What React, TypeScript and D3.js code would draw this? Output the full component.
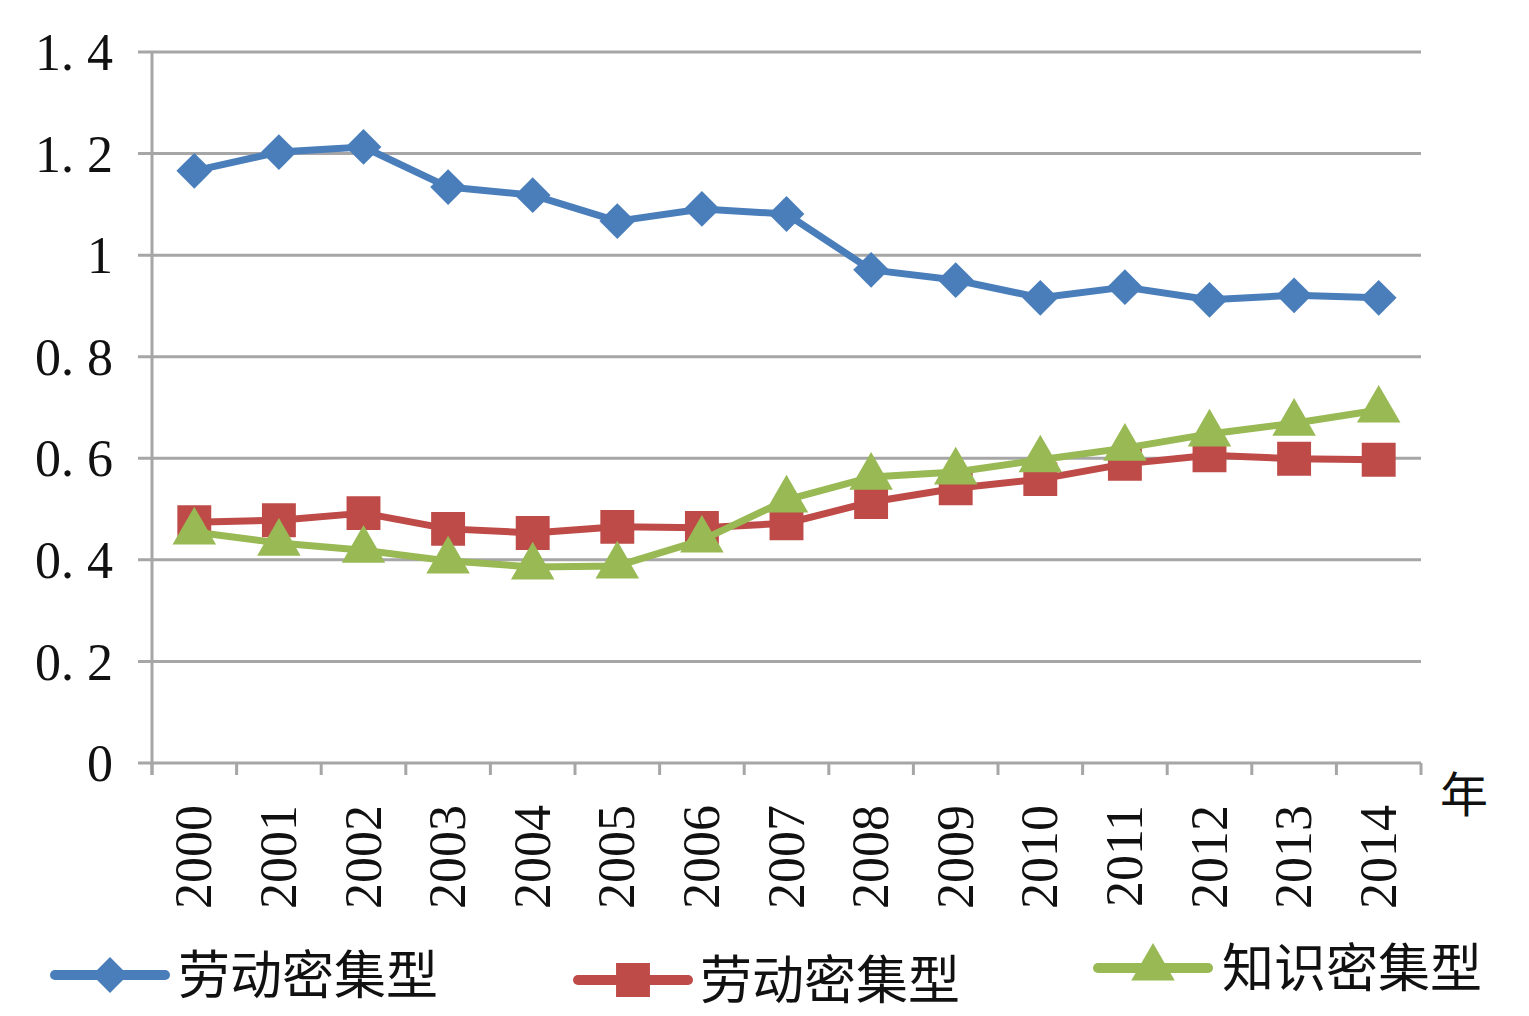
import * as d3 from 'd3';
import React from 'react';

// data
const years = ['2000', '2001', '2002', '2003', '2004', '2005', '2006', '2007', '2008', '2009', '2010', '2011', '2012', '2013', '2014'];
const laborA = [1.166, 1.203, 1.213, 1.134, 1.118, 1.067, 1.091, 1.081, 0.971, 0.951, 0.916, 0.937, 0.912, 0.921, 0.916];
const laborB = [0.474, 0.478, 0.492, 0.461, 0.453, 0.465, 0.463, 0.472, 0.514, 0.541, 0.559, 0.589, 0.606, 0.599, 0.597];
const knowledge = [0.455, 0.433, 0.419, 0.398, 0.386, 0.388, 0.439, 0.518, 0.563, 0.573, 0.597, 0.620, 0.648, 0.669, 0.695];
const yTicks = [0, 0.2, 0.4, 0.6, 0.8, 1, 1.2, 1.4];
const seriesNames = ['劳动密集型', '劳动密集型', '知识密集型'];

const W = 1529, H = 1016;
const margin = { top: 52, right: 108, bottom: 253, left: 152 };
const serif = '"Times New Roman", "Liberation Serif", "DejaVu Serif", serif';
const cjk = '"Noto Sans CJK SC", "Noto Sans CJK JP", sans-serif';

const series = [
	{ name: seriesNames[0], values: laborA, color: '#4a7ebb', symbol: d3.symbolSquare, size: 640, rot: 45 },
	{ name: seriesNames[1], values: laborB, color: '#be4b48', symbol: d3.symbolSquare, size: 1150, rot: 0 },
	{ name: seriesNames[2], values: knowledge, color: '#98b954', symbol: d3.symbolTriangle, size: 820, rot: 0 },
];

const fmt = (v: number) => (v === 0 || v === 1 ? String(v) : v.toFixed(1).replace('.', '. '));

export default function App() {
	const x = d3.scaleBand().domain(years).range([margin.left, W - margin.right]);
	const y = d3.scaleLinear().domain([0, 1.4]).range([H - margin.bottom, margin.top]);
	const cx = (yr: string) => (x(yr) as number) + x.bandwidth() / 2;

	const line = d3.line<number>()
		.x((_, i) => cx(years[i]))
		.y(d => y(d));

	const boundaries = years.map(yr => x(yr) as number).concat([W - margin.right]);
	const legendPos = [
		{ x0: 55, y: 975, tx: 178 },
		{ x0: 578, y: 980, tx: 700 },
		{ x0: 1098, y: 968, tx: 1222 },
	];

	return (
		<svg width={W} height={H} style={{ position: 'absolute', left: 0, top: 0, background: '#fff' }}>
			{/* grid */}
			{yTicks.map(t => (
				<g key={t}>
					<line x1={margin.left - 14} x2={W - margin.right} y1={y(t)} y2={y(t)} stroke="#a6a6a6" strokeWidth={3} />
					<text x={113} y={y(t)} dy="0.35em" textAnchor="end" fontFamily={serif} fontSize={52} fill="#111">{fmt(t)}</text>
				</g>
			))}
			<line x1={margin.left} x2={margin.left} y1={margin.top} y2={y(0) + 12} stroke="#a6a6a6" strokeWidth={3} />
			{boundaries.map((b, i) => (
				<line key={i} x1={b} x2={b} y1={y(0)} y2={y(0) + 12} stroke="#a6a6a6" strokeWidth={3} />
			))}
			{years.map(yr => (
				<text key={yr} transform={`translate(${cx(yr) + 17},${y(0) + 42}) rotate(-90)`} textAnchor="end"
					fontFamily={serif} fontSize={52} fill="#111">{yr}</text>
			))}
			<text x={1440} y={812} fontFamily={cjk} fontSize={48} fill="#111">年</text>

			{series.map((s, si) => (
				<g key={si}>
					<path d={line(s.values) || ''} fill="none" stroke={s.color} strokeWidth={7} strokeLinejoin="round" />
					{s.values.map((v, i) => (
						<path key={i} d={d3.symbol().type(s.symbol).size(s.size)() || ''}
							transform={`translate(${cx(years[i])},${y(v)}) rotate(${s.rot})`} fill={s.color} />
					))}
				</g>
			))}

			{/* legend */}
			{series.map((s, si) => {
				const p = legendPos[si];
				return (
					<g key={si}>
						<line x1={p.x0} x2={p.x0 + 110} y1={p.y} y2={p.y} stroke={s.color} strokeWidth={10} strokeLinecap="round" />
						<path d={d3.symbol().type(s.symbol).size(s.size)() || ''} transform={`translate(${p.x0 + 55},${p.y}) rotate(${s.rot})`} fill={s.color} />
						<text x={p.tx} y={p.y} dy="0.36em" fontFamily={cjk} fontSize={52} fill="#111">{s.name}</text>
					</g>
				);
			})}
		</svg>
	);
}
